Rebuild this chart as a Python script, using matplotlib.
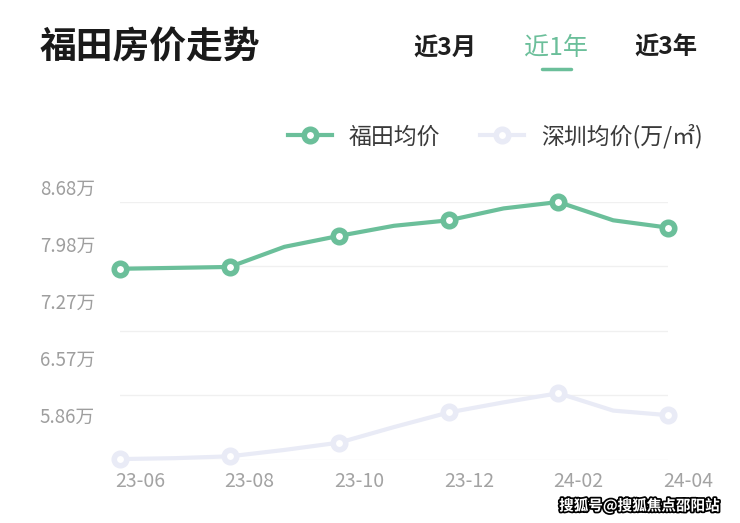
import numpy as np
import matplotlib
matplotlib.use('Agg')
from matplotlib import pyplot as plt
from matplotlib import transforms
import matplotlib.patheffects as pe

plt.rcParams['font.family'] = ['Noto Sans CJK SC', 'DejaVu Sans']

# monthly data, 23-06 .. 24-04 (万/㎡)
months = ['23-06', '23-07', '23-08', '23-09', '23-10', '23-11',
          '23-12', '24-01', '24-02', '24-03', '24-04']
futian = [7.95, 7.96, 7.97, 8.19, 8.31, 8.42, 8.48, 8.61, 8.68, 8.48, 8.40]
shenzhen = [5.87, 5.88, 5.90, 5.97, 6.05, 6.22, 6.38, 6.49, 6.59, 6.40, 6.35]

ytick_vals = [5.86, 6.57, 7.27, 7.98, 8.68]
ytick_labels = ['5.86万', '6.57万', '7.27万', '7.98万', '8.68万']

tabs = ['近3月', '近1年', '近3年']
legend_names = ['福田均价', '深圳均价(万/㎡)']

green = '#6bbf9a'
lav = '#e9ebf6'
W, H = 740, 523

fig = plt.figure(figsize=(W/100, H/100), dpi=100)
ax = fig.add_axes([120/W, 1-460/H, 548/W, 258/H])

x = np.arange(len(months))
l1, = ax.plot(x, futian, color=green, lw=3, marker='o', markevery=2, ms=9,
              mec=green, mfc='white', mew=4, solid_joinstyle='round',
              clip_on=False, zorder=4, label=legend_names[0])
l2, = ax.plot(x, shenzhen, color=lav, lw=3, marker='o', markevery=2, ms=9,
              mec=lav, mfc='white', mew=4, solid_joinstyle='round',
              clip_on=False, zorder=3, label=legend_names[1])

ax.set_xlim(0, len(months)-1)
ax.set_ylim(ytick_vals[0], ytick_vals[-1])
for s in ax.spines.values():
    s.set_visible(False)

ax.set_yticks(ytick_vals)
ax.set_yticklabels([])
ax.tick_params(axis='y', length=0)
ax.grid(axis='y', color='#f0f0f0', lw=1)
ax.set_axisbelow(True)

ax.set_xticks(x[::2])
ax.set_xticklabels(months[::2], fontsize=14, color='#a3a3a3')
ax.tick_params(axis='x', length=0, pad=8)
shift = transforms.ScaledTranslation(20/100, 0, fig.dpi_scale_trans)
for lab in ax.get_xticklabels():
    lab.set_transform(lab.get_transform() + shift)

# the value labels sit on their own, squeezed band above the grid lines
lab_ax = fig.add_axes([120/W, 1-415/H, 548/W, 228/H])
lab_ax.patch.set_visible(False)
for s in lab_ax.spines.values():
    s.set_visible(False)
lab_ax.set_ylim(ytick_vals[0], ytick_vals[-1])
lab_ax.set_yticks(ytick_vals)
lab_ax.set_yticklabels(ytick_labels, fontsize=13.5, color='#9e9e9e')
lab_ax.set_xticks([])
lab_ax.tick_params(length=0, pad=18)

# header
fig.text(40/W, 1-48/H, '福田房价走势', fontsize=26.5, fontweight='bold',
         color='#1a1a1a', va='center', ha='left')
tab_x = [445, 556, 666]
for i, t in enumerate(tabs):
    if i == 1:
        fig.text(tab_x[i]/W, 1-48/H, t, fontsize=18, color=green,
                 va='center', ha='center')
    else:
        fig.text(tab_x[i]/W, 1-48/H, t, fontsize=17.5, fontweight='bold',
                 color='#1f1f1f', va='center', ha='center')
fig.add_artist(plt.Line2D([542/W, 571/W], [1-69/H, 1-69/H], color=green,
                          lw=2.5, solid_capstyle='round'))

fig.legend(handles=[l1, l2], loc='center left',
           bbox_to_anchor=(288/W, 1-136/H), ncol=2, frameon=False,
           fontsize=16.5, handlelength=1.9, handletextpad=0.75,
           columnspacing=1.75, borderpad=0, borderaxespad=0,
           labelcolor='#3a3a3a')

fig.text(720/W, 1-506/H, '搜狐号@搜狐焦点邵阳站', fontsize=10.5,
         fontweight='bold', color='white', ha='right', va='center',
         path_effects=[pe.withStroke(linewidth=2.5, foreground='black')])

fig.savefig('out.png', dpi=100)
